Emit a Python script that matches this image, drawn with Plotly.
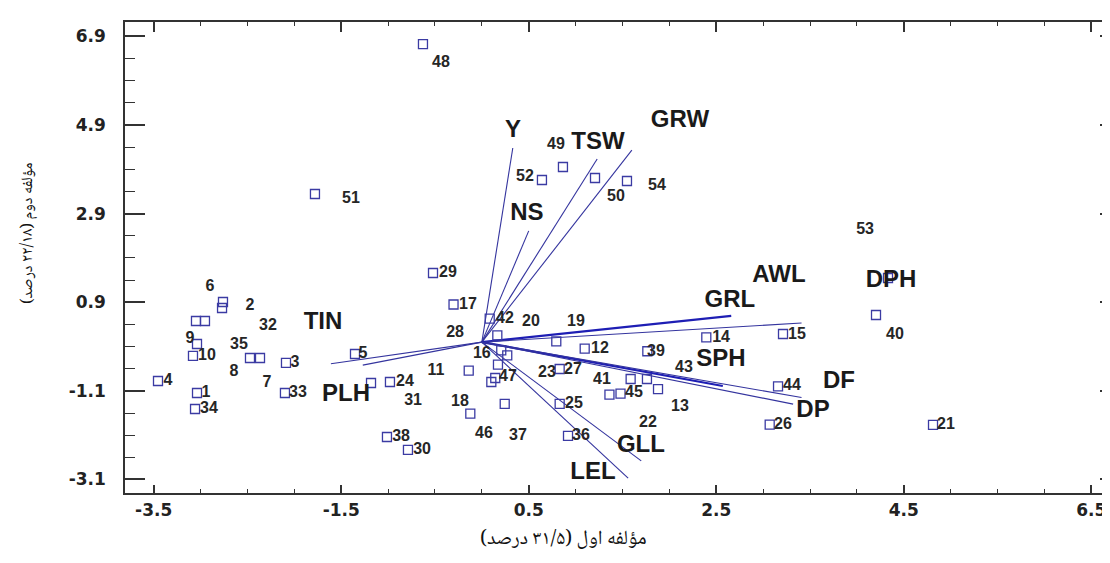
import plotly.graph_objects as go

# ---------------- data ----------------
# observation markers (open squares)
pt_x = [-0.628, -1.780, 0.865, 0.641, 1.207, 1.548, -0.521, -0.302, -2.761, -2.771,
        -3.049, -2.953, -3.038, -3.081, -2.473, -2.366, -1.353, -2.089, -3.454, -1.182,
        -0.980, -3.038, -2.100, -3.059, -1.012, -0.788, 0.084, 0.165, 0.794, 2.394,
        3.212, 0.207, 0.271, 1.097, 1.765, -0.140, 0.172, 0.143, 0.101, 0.830,
        1.587, 1.761, 1.879, 1.361, 1.479, 3.159, -0.123, 0.244, 0.830, 3.070,
        0.919, 4.204, 4.332, 4.812]
pt_y = [6.726, 3.342, 3.951, 3.658, 3.703, 3.635, 1.559, 0.849, 0.905, 0.770,
        0.476, 0.476, -0.043, -0.313, -0.359, -0.359, -0.268, -0.471, -0.878, -0.923,
        -0.900, -1.148, -1.148, -1.509, -2.141, -2.434, 0.528, 0.154, 0.018, 0.108,
        0.183, -0.185, -0.298, -0.149, -0.207, -0.645, -0.510, -0.810, -0.900, -0.607,
        -0.833, -0.833, -1.059, -1.187, -1.164, -0.997, -1.615, -1.396, -1.396, -1.864,
        -2.118, 0.612, 1.446, -1.870]

# observation number labels
lab_text = ["48", "51", "49", "52", "50", "54", "53", "29", "6", "2", "32", "17", "9", "35",
            "10", "28", "5", "3", "8", "11", "4", "7", "24", "1", "33", "31", "18", "34",
            "38", "30", "42", "20", "19", "16", "12", "39", "47", "23", "27", "41", "43",
            "45", "44", "14", "15", "25", "13", "22", "26", "46", "37", "36", "40", "21"]
lab_x = [-0.436, -1.396, 0.791, 0.460, 1.430, 1.868, 4.087, -0.361, -2.900, -2.473, -2.281,
         -0.148, -3.113, -2.590, -2.932, -0.286, -1.268, -1.993, -2.644, -0.489, -3.347,
         -2.292, -0.820, -2.942, -1.961, -0.734, -0.233, -2.910, -0.862, -0.638, 0.247,
         0.524, 1.004, 0.000, 1.260, 1.857, 0.279, 0.695, 0.972, 1.281, 2.156, 1.623,
         3.308, 2.551, 3.361, 0.983, 2.113, 1.772, 3.212, 0.023, 0.385, 1.057, 4.406, 4.950]
lab_y = [6.298, 3.229, 4.447, 3.725, 3.275, 3.522, 2.530, 1.559, 1.243, 0.815, 0.363,
         0.837, 0.070, -0.066, -0.313, 0.206, -0.268, -0.471, -0.674, -0.652, -0.878,
         -0.923, -0.900, -1.148, -1.148, -1.329, -1.352, -1.509, -2.141, -2.434, 0.521,
         0.454, 0.454, -0.268, -0.156, -0.223, -0.787, -0.697, -0.629, -0.855, -0.584,
         -1.148, -0.990, 0.093, 0.161, -1.396, -1.464, -1.825, -1.870, -2.073, -2.118,
         -2.118, 0.161, -1.870]

# variable vectors (from origin)
vec_names = ["Y", "NS", "TSW", "GRW", "GRL", "AWL", "SPH", "DF", "DP", "GLL", "LEL", "TIN", "PLH"]
vec_x = [0.33, 0.50, 1.23, 1.60, 2.66, 3.41, 2.57, 3.41, 3.32, 1.70, 1.56, -1.61, -1.27]
vec_y = [4.38, 2.51, 4.13, 4.33, 0.59, 0.43, -0.99, -1.25, -1.40, -2.68, -3.07, -0.49, -0.52]

# variable labels
var_text = ["Y", "TSW", "GRW", "NS", "GRL", "AWL", "DPH", "SPH", "DF", "DP", "GLL", "LEL", "TIN", "PLH"]
var_lx = [0.332, 1.239, 2.113, 0.481, 2.646, 3.169, 4.364, 2.551, 3.809, 3.532, 1.697, 1.185, -1.694, -1.449]
var_ly = [4.763, 4.493, 4.989, 2.891, 0.928, 1.492, 1.379, -0.401, -0.900, -1.554, -2.344, -2.953, 0.431, -1.193]

x_ticks = [-3.5, -1.5, 0.5, 2.5, 4.5, 6.5]
y_ticks = [6.9, 4.9, 2.9, 0.9, -1.1, -3.1]
x_range = [-3.806, 6.785]
y_range = [-3.405, 7.223]

x_title = "مؤلفه اول (۳۱/۵ درصد)"
y_title = "مؤلفه دوم (۲۲/۱۸ درصد)"

# ---------------- figure ----------------
AX = "#333333"
THICK = {"GRL", "SPH"}

fig = go.Figure()

for name, ex, ey in zip(vec_names, vec_x, vec_y):
    thick = name in THICK
    fig.add_trace(go.Scatter(
        x=[0, ex], y=[0, ey], mode="lines",
        line=dict(color="#1e1eb4" if thick else "#34349e", width=2.2 if thick else 1.1),
        hoverinfo="skip", showlegend=False))

fig.add_trace(go.Scatter(
    x=pt_x, y=pt_y, mode="markers",
    marker=dict(symbol="square-open", size=9, color="#3b3ba3", line=dict(width=1.3, color="#3b3ba3")),
    showlegend=False))

fig.add_trace(go.Scatter(
    x=lab_x, y=lab_y, mode="text", text=lab_text, textposition="middle center",
    textfont=dict(family="Liberation Sans, Arial", size=16, color="#262626", weight="bold"),
    cliponaxis=False, hoverinfo="skip", showlegend=False))

fig.add_trace(go.Scatter(
    x=var_lx, y=var_ly, mode="text", text=var_text, textposition="middle center",
    textfont=dict(family="Liberation Sans, Arial", size=24, color="#1a1a1a", weight="bold"),
    cliponaxis=False, hoverinfo="skip", showlegend=False))

# dummy trace for mirrored axes
fig.add_trace(go.Scatter(x=[x_range[0]], y=[y_range[0]], xaxis="x2", yaxis="y2",
                         mode="markers", marker=dict(opacity=0), hoverinfo="skip", showlegend=False))

tickfont = dict(family="DejaVu Sans", size=17, color="#222222", weight="bold")

fig.update_layout(
    width=1110, height=563,
    margin=dict(l=117, r=0, t=14, b=78),
    paper_bgcolor="white", plot_bgcolor="white",
    showlegend=False,
    xaxis=dict(range=x_range, tickvals=x_ticks, ticktext=[f"{v}" for v in x_ticks],
               ticks="inside", ticklen=8, tickwidth=1.5, tickcolor=AX,
               showline=True, linecolor=AX, linewidth=1.6, showgrid=False, zeroline=False,
               tickfont=tickfont, ticklabelstandoff=1,
               minor=dict(dtick=0.5, tick0=-3.5, ticks="inside", ticklen=4, tickcolor=AX, tickwidth=1.2)),
    yaxis=dict(range=y_range, tickvals=y_ticks, ticktext=[f"{v}" for v in y_ticks],
               ticks="inside", ticklen=20, tickwidth=1.5, tickcolor=AX,
               showline=True, linecolor=AX, linewidth=1.6, showgrid=False, zeroline=False,
               tickfont=tickfont, ticklabelstandoff=14,
               minor=dict(dtick=0.5, tick0=-3.1, ticks="inside", ticklen=10, tickcolor=AX, tickwidth=1.2)),
    xaxis2=dict(range=x_range, overlaying="x", side="top", anchor="y2", tickvals=x_ticks,
                showticklabels=False, ticks="inside", ticklen=10, tickwidth=1.5, tickcolor=AX,
                showline=True, linecolor=AX, linewidth=1.6, showgrid=False, zeroline=False,
                minor=dict(dtick=0.5, tick0=-3.5, ticks="inside", ticklen=4, tickcolor=AX, tickwidth=1.2)),
    yaxis2=dict(range=y_range, overlaying="y", side="right", anchor="x2", tickvals=y_ticks,
                showticklabels=False, ticks="inside", ticklen=18, tickwidth=1.5, tickcolor=AX,
                showline=False, showgrid=False, zeroline=False,
                minor=dict(dtick=0.5, tick0=-3.1, ticks="inside", ticklen=8, tickcolor=AX, tickwidth=1.2)),
    annotations=[
        dict(text=x_title, xref="paper", yref="paper", x=(555 - 117) / 993, y=(485 - 532) / 471,
             xanchor="center", yanchor="middle", showarrow=False,
             font=dict(family="Noto Naskh Arabic, DejaVu Sans", size=20, color="#111111")),
        dict(text=y_title, xref="paper", yref="paper", x=(20 - 117) / 993, y=(485 - 225) / 471,
             textangle=-90, xanchor="center", yanchor="middle", showarrow=False,
             font=dict(family="Noto Naskh Arabic, DejaVu Sans", size=16, color="#111111")),
    ],
)

fig.write_html("out.html")
